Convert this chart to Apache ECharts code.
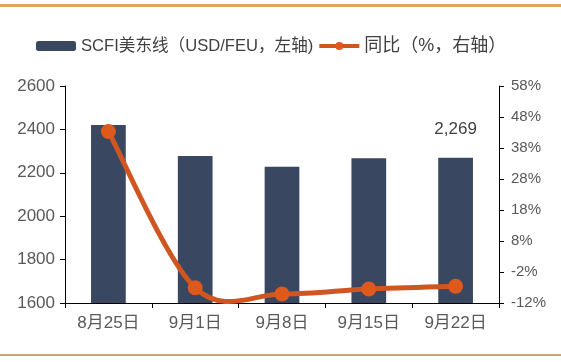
<!DOCTYPE html>
<html><head><meta charset="utf-8">
<script src="https://cdn.jsdelivr.net/npm/echarts@6/dist/echarts.min.js"></script>
<style>html,body{margin:0;padding:0;background:#fff}#c{width:561px;height:362px}</style>
</head><body><div id="c"></div>
<script>
var categories = ['8月25日', '9月1日', '9月8日', '9月15日', '9月22日'];
var scfiValues = [2420, 2277, 2228, 2267, 2269];
var yoyValues = [43.3, -7.1, -9.1, -7.5, -6.6];
var leftTicks = [1600, 1800, 2000, 2200, 2400, 2600];
var rightTicks = [-12, -2, 8, 18, 28, 38, 48, 58];
var seriesNames = ['SCFI美东线（USD/FEU，左轴)', '同比（%，右轴）'];

var FONT = "'Liberation Sans', 'Noto Sans CJK SC', sans-serif";
var LINE_COLOR = '#CF5521';
var chart = echarts.init(document.getElementById('c'), null, {renderer: 'canvas'});

function yoyCurveItem(params, api) {
  var i = params.dataIndex, n = yoyValues.length;
  if (i >= n - 1) return {type: 'group', children: []};
  function pt(k) {
    k = Math.max(0, Math.min(n - 1, k));
    return api.coord([k, yoyValues[k]]);
  }
  var p0 = pt(i - 1), p1 = pt(i), p2 = pt(i + 1), p3 = pt(i + 2);
  return {
    type: 'bezierCurve',
    shape: {
      x1: p1[0], y1: p1[1], x2: p2[0], y2: p2[1],
      cpx1: p1[0] + (p2[0] - p0[0]) / 6, cpy1: p1[1] + (p2[1] - p0[1]) / 6,
      cpx2: p2[0] - (p3[0] - p1[0]) / 6, cpy2: p2[1] - (p3[1] - p1[1]) / 6
    },
    style: {stroke: LINE_COLOR, lineWidth: 5, fill: null, lineCap: 'round'}
  };
}

chart.setOption({
  animation: false,
  textStyle: {fontFamily: FONT},
  legend: {
    left: 36, top: 37, padding: 0, itemGap: 4, itemWidth: 40, itemHeight: 10,
    textStyle: {fontSize: 16.6, color: '#404040', fontFamily: FONT},
    data: [
      {name: seriesNames[0], itemStyle: {color: '#3A4761'}},
      {name: seriesNames[1], textStyle: {fontSize: 18},
        lineStyle: {width: 4, color: LINE_COLOR, opacity: 1},
        itemStyle: {color: '#DF581C', opacity: 1}}
    ]
  },
  graphic: [
    {type: 'rect', left: 0, top: 4, shape: {width: 561, height: 3}, style: {fill: '#DDA463'}},
    {type: 'rect', left: 0, top: 354, shape: {width: 561, height: 2}, style: {fill: '#C9A47A'}}
  ],
  grid: {left: 65, right: 62, top: 86, bottom: 59},
  xAxis: {
    type: 'category', data: categories,
    axisLine: {onZero: false, lineStyle: {color: '#000', width: 1}},
    axisTick: {show: true, length: 5, lineStyle: {color: '#000'}},
    axisLabel: {fontSize: 17, color: '#595959', margin: 12}
  },
  yAxis: [
    {
      type: 'value', min: leftTicks[0], max: leftTicks[leftTicks.length - 1], interval: 200,
      splitLine: {show: false},
      axisLine: {show: true, lineStyle: {color: '#000'}},
      axisTick: {show: true, length: 5, lineStyle: {color: '#000'}},
      axisLabel: {fontSize: 17, color: '#595959', margin: 10,
        formatter: function (v) { return String(v); }}
    },
    {
      type: 'value', min: rightTicks[0], max: rightTicks[rightTicks.length - 1],
      splitLine: {show: false},
      axisLine: {show: true, lineStyle: {color: '#000'}},
      axisTick: {show: true, length: 5, lineStyle: {color: '#000'}, customValues: rightTicks},
      axisLabel: {fontSize: 15, color: '#595959', margin: 12, customValues: rightTicks,
        formatter: function (v) { return v + '%'; }}
    }
  ],
  series: [
    {
      name: seriesNames[0], type: 'bar', yAxisIndex: 0, barWidth: '40%', z: 2,
      itemStyle: {color: '#3A4761'},
      data: scfiValues.map(function (v, i) {
        if (i === scfiValues.length - 1) {
          return {value: v, label: {show: true, position: 'top', distance: 20, fontSize: 17, color: '#404040',
            formatter: function (p) { return p.value.toLocaleString('en-US'); }}};
        }
        return v;
      })
    },
    {
      name: 'yoyCurve', type: 'custom', coordinateSystem: 'cartesian2d', xAxisIndex: 0, yAxisIndex: 1,
      renderItem: yoyCurveItem, encode: {x: 0, y: 1}, silent: true, clip: false, z: 5,
      data: yoyValues.map(function (v, i) { return [i, v]; })
    },
    {
      name: seriesNames[1], type: 'line', yAxisIndex: 1, z: 6,
      symbol: 'circle', symbolSize: 15,
      lineStyle: {color: LINE_COLOR, width: 5, opacity: 0},
      itemStyle: {color: '#DF581C'},
      data: yoyValues
    }
  ]
});
</script></body></html>
